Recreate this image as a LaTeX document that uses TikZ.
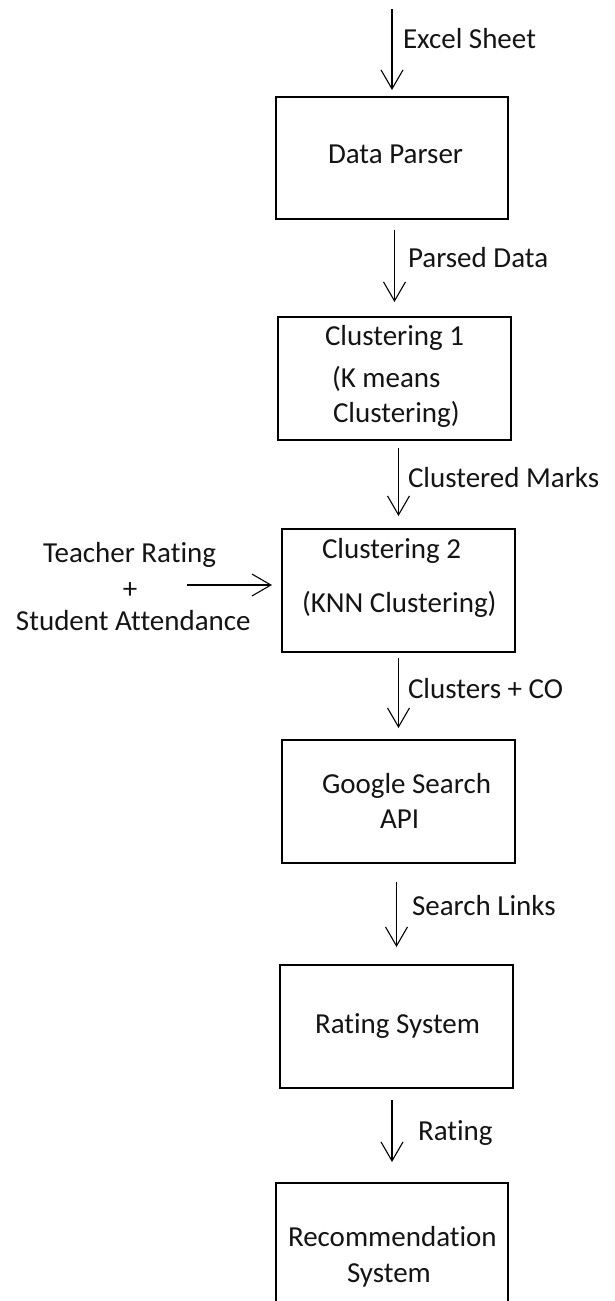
\documentclass[tikz,border=0pt]{standalone}
\usepackage{fontspec}
\setmainfont{Carlito}[Ligatures={NoCommon,NoRare}]
\usetikzlibrary{arrows.meta}
\tikzset{
  box/.style={draw=black, line width=1.7pt, inner sep=0pt, outer sep=0pt, minimum width=#1, minimum height=123pt},
  box/.default=233pt,
  txt/.style={inner sep=0pt, outer sep=0pt, anchor=base west, text=black!92, font=\fontsize{29pt}{35pt}\selectfont},
  txtc/.style={txt, anchor=base},
  arr/.style={draw=black, line width=1.3pt, -{Straight Barb[length=19pt,width=22pt,line width=1.1pt]}}
}
\begin{document}
\begin{tikzpicture}[x=1pt,y=-1pt]
\useasboundingbox (0,0) rectangle (615,1301);
\clip (0,0) rectangle (615,1301);
% boxes
\node[box=232pt, minimum height=122pt] (dp) at (392,158) {};
\node[box] (c1) at (394.5,378.5) {};
\node[box] (c2) at (398.5,590.5) {};
\node[box] (gs) at (398.5,801.5) {};
\node[box] (rs) at (396.5,1026.5) {};
\node[box=232pt] (rec) at (392,1244.5) {};
% texts in boxes
\node[txt] (tdp) at (328,163) {Data Parser};
\node[txt] (tc1a) at (325,345) {Clustering 1};
\node[txt] (tc1b) at (332,387) {(K means};
\node[txt] (tc1c) at (333,422) {Clustering)};
\node[txt] (tc2a) at (322,558) {Clustering 2};
\node[txt] (tc2b) at (302,612) {(KNN Clustering)};
\node[txt] (tgsa) at (322,793) {Google Search};
\node[txt] (tgsb) at (380,828) {API};
\node[txt] (trs) at (315,1033) {Rating System};
\node[txt] (treca) at (288,1246) {Recommendation};
\node[txt] (trecb) at (347,1282) {System};
% side inputs
\node[txt] (tra) at (43,562) {Teacher Rating};
\node[txtc] (trb) at (130,598) {+};
\node[txt] (trc) at (16,630) {Student Attendance};
% arrow labels
\node[txt] (l1) at (403,48) {Excel Sheet};
\node[txt] (l2) at (408,267) {Parsed Data};
\node[txt] (l3) at (408,487) {Clustered Marks};
\node[txt] (l4) at (408,698) {Clusters + CO};
\node[txt] (l5) at (412,915) {Search Links};
\node[txt] (l6) at (418,1140) {Rating};
% connectors
\coordinate (in0) at (392,9);
\coordinate (ls) at (187,585);
\draw[arr, shorten >=7pt] (in0) -- (dp.north);
\draw[arr, shorten <=11pt, shorten >=15pt] (c1.north |- dp.south) -- (c1.north);
\draw[arr, shorten <=8pt, shorten >=13pt] (c2.north |- c1.south) -- (c2.north);
\draw[arr, shorten <=6pt, shorten >=12pt] (gs.north |- c2.south) -- (gs.north);
\draw[arr, shorten <=19pt, shorten >=18pt] (rs.north |- gs.south) -- (rs.north);
\draw[arr, shorten <=12pt, shorten >=21pt] (rec.north |- rs.south) -- (rec.north);
\draw[arr, shorten >=10pt] (ls) -- (ls -| c2.west);
\end{tikzpicture}
\end{document}
